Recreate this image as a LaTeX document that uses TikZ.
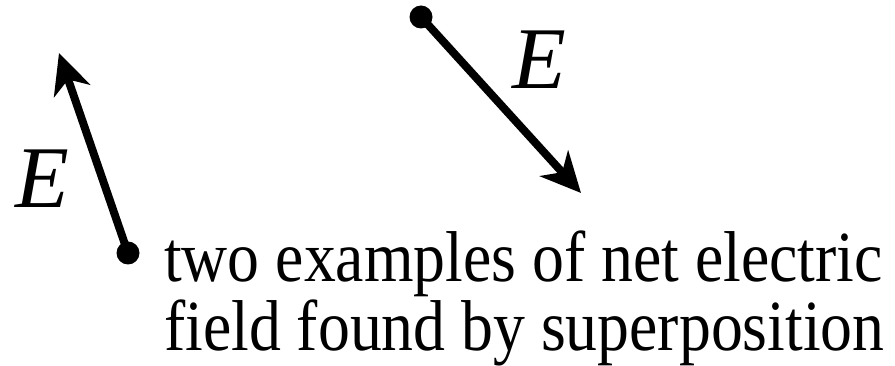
\documentclass[tikz,border=0pt]{standalone}
\usepackage{fontspec}
\setmainfont{Liberation Serif}
\usetikzlibrary{arrows.meta}
\tikzset{
  vec/.style={line width=8pt, -{Stealth[length=40pt,width=38pt,inset=12pt]}},
  pt/.style={circle, fill=black, inner sep=0pt, minimum size=23pt},
  lab/.style={inner sep=0pt, anchor=base, font=\fontsize{88}{90}\selectfont\itshape},
  txt/.style={inner sep=0pt, anchor=base west, font=\fontsize{72}{70}\selectfont}
}
\begin{document}
\begin{tikzpicture}[x=1pt,y=-1pt]
\useasboundingbox (0,0) rectangle (895,366);
\node[pt] (d1) at (128,253) {};
\coordinate (t1) at (59,53);
\node[pt] (d2) at (421,17) {};
\coordinate (t2) at (581,193);
\draw[vec] (d1.center) -- (t1);
\draw[vec] (d2.center) -- (t2);
\node[lab] (e1) at (42,208) {E};
\node[lab] (e2) at (539,89) {E};
\node[txt] (l1) at (164,282) {\scalebox{0.885}[1]{two examples of net electric}};
\node[txt] (l2) at (164,350) {\scalebox{0.885}[1]{field found by superposition}};
\end{tikzpicture}
\end{document}
